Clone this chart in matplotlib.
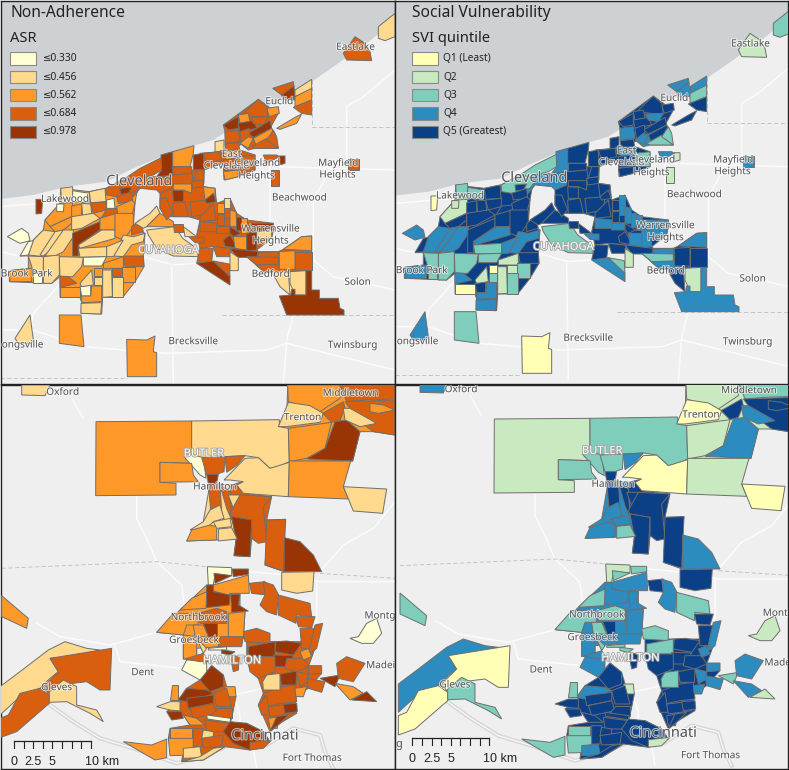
import matplotlib
matplotlib.use("Agg")
import matplotlib.pyplot as plt
import matplotlib.patheffects as pe
from matplotlib.patches import Polygon, Rectangle

plt.rcParams['font.family'] = ['Noto Sans', 'DejaVu Sans']

ASR_COLORS = ['#ffffd4', '#fed98e', '#fe9929', '#d95f0e', '#993404']
SVI_COLORS = ['#ffffb5', '#c9e9c1', '#7fcdbb', '#2c8bbf', '#0b3f86']
ASR_LABELS = ['≤0.330', '≤0.456', '≤0.562', '≤0.684', '≤0.978']
SVI_LABELS = ['Q1 (Least)', 'Q2', 'Q3', 'Q4', 'Q5 (Greatest)']

# (ASR class, SVI class, outline) in map units; None = not shown in that panel
CLE_BASE = [
 (3,4,[(670,375),(775,298),(805,320),(835,340),(810,385),(760,412),(720,435),(680,460),(675,395)]),
 (3,3,[(720,430),(815,385),(835,445),(765,445),(745,450)]),
 (3,4,[(600,460),(720,450),(765,465),(765,510),(715,530),(672,540),(670,490),(612,510)]),
 (3,4,[(480,520),(612,510),(610,560),(645,565),(650,610),(690,595),(710,640),(740,660),(820,670),(820,690),(815,715),(770,750),(775,755),(835,755),(850,748),(905,710),(935,708),(935,810),(860,815),(795,818),(740,770),(690,745),(640,740),(600,745),(590,705),(600,660),(565,650),(520,650),(500,650),(480,625)]),
 (2,4,[(135,660),(180,610),(182,565),(268,575),(318,565),(375,535),(420,555),(410,580),(405,610),(400,680),(435,700),(430,768),(432,800),(405,845),(368,892),(308,892),(305,942),(243,940),(245,908),(240,892),(180,892),(180,830),(155,850),(100,848),(28,845),(28,812),(85,805),(85,768),(60,768),(100,720),(130,690)]),
 (3,3,[(320,570),(375,535),(470,530),(515,530),(515,565),(480,580),(470,570),(420,565),(400,590),(350,590)]),
]
CLE_TRACTS = [
 (3,1,[(1030,160),(1065,110),(1095,130),(1110,155),(1115,182),(1040,180)]),
 (1,2,[(1135,80),(1185,40),(1185,110),(1155,122),(1135,115)]),
 (3,3,[(818,265),(880,245),(882,258),(845,285)]),
 (4,3,[(845,285),(882,258),(885,300),(850,298)]),
 (1,3,[(885,270),(935,238),(935,270),(885,290)]),
 (2,2,[(885,290),(935,265),(935,300),(885,320)]),
 (3,4,[(880,322),(935,300),(935,345),(905,340)]),
 (2,4,[(830,385),(880,355),(905,342),(890,370),(840,388)]),
 (2,4,[(800,325),(835,320),(838,340),(808,350)]),
 (3,4,[(725,345),(775,298),(800,320),(805,352),(770,350)]),
 (2,4,[(715,345),(745,340),(750,365),(720,370)]),
 (4,4,[(670,375),(715,350),(715,385),(685,390)]),
 (4,4,[(715,370),(760,362),(770,385),(720,395)]),
 (3,3,[(750,352),(805,350),(790,375),(760,370)]),
 (4,4,[(745,400),(810,362),(815,385),(760,412)]),
 (3,3,[(675,395),(715,390),(720,425),(675,430)]),
 (3,4,[(720,395),(748,385),(750,405),(725,435)]),
 (3,4,[(675,432),(715,428),(720,455),(680,460)]),
 (1,4,[(645,425),(672,420),(672,455),(645,455)]),
 (2,3,[(720,430),(745,410),(760,415),(745,445)]),
 (2,4,[(760,415),(815,385),(825,405),(770,440)]),
 (3,2,[(755,440),(800,415),(835,445),(765,445)]),
 (3,2,[(820,390),(830,410),(835,445),(800,420)]),
 (3,4,[(610,460),(660,455),(665,480),(620,490)]),
 (2,3,[(660,452),(720,450),(725,470),(680,480)]),
 (3,4,[(670,480),(710,475),(715,510),(672,512)]),
 (2,4,[(670,515),(715,510),(715,530),(675,540)]),
 (3,2,[(720,470),(765,465),(765,510),(720,510)]),
 (3,3,[(790,465),(830,465),(838,470),(800,490)]),
 (4,1,[(838,468),(855,468),(855,490),(838,495)]),
 (3,1,[(812,510),(838,510),(838,558),(812,558)]),
 (3,3,[(1045,478),(1078,478),(1078,510),(1045,510)]),
 (3,2,[(375,535),(420,505),(490,470),(485,510),(460,525),(400,540)]),
 (4,3,[(483,465),(518,455),(518,525),(470,530),(485,510)]),
 (2,4,[(518,455),(582,437),(580,460),(570,500),(518,500)]),
 (4,4,[(580,465),(610,460),(612,510),(580,510)]),
 (3,4,[(575,510),(612,510),(612,550),(580,555)]),
 (3,4,[(520,500),(575,500),(575,520),(520,525)]),
 (3,4,[(590,510),(612,510),(610,540),(580,545)]),
 (4,0,[(108,598),(128,598),(125,640),(108,642)]),
 (1,2,[(182,565),(218,560),(218,610),(185,610)]),
 (0,2,[(218,572),(268,580),(265,608),(218,605)]),
 (1,4,[(268,575),(315,565),(318,605),(272,608)]),
 (3,2,[(318,565),(375,535),(400,540),(420,555),(405,575),(350,590),(320,585)]),
 (4,4,[(360,565),(395,562),(385,580),(362,582)]),
 (0,None,[(320,600),(342,595),(345,625),(320,625)]),
 (3,4,[(350,590),(395,575),(398,605),(355,610)]),
 (2,1,[(135,660),(180,610),(218,608),(215,650),(150,680)]),
 (0,1,[(170,612),(192,612),(190,635),(170,635)]),
 (2,4,[(215,618),(245,612),(245,650),(215,650)]),
 (1,4,[(245,610),(272,612),(275,640),(248,650)]),
 (3,4,[(272,610),(320,605),(318,630),(280,640)]),
 (3,4,[(320,628),(355,625),(355,650),(300,660)]),
 (2,4,[(350,620),(395,600),(405,610),(395,650),(355,650)]),
 (2,4,[(150,680),(215,650),(215,670),(190,690),(165,695)]),
 (1,4,[(215,650),(280,640),(300,655),(245,685),(215,690)]),
 (1,3,[(85,765),(100,720),(130,690),(165,695),(165,720),(130,770)]),
 (0,3,[(22,710),(65,685),(85,700),(90,722),(60,730)]),
 (0,4,[(60,768),(85,725),(100,722),(85,765)]),
 (1,3,[(165,695),(190,690),(190,720),(130,768),(120,765)]),
 (1,3,[(190,690),(220,690),(220,710),(190,755),(165,768),(135,768)]),
 (4,4,[(218,700),(300,665),(300,690),(235,735),(235,768),(218,768)]),
 (2,4,[(300,655),(350,640),(345,690),(300,690)]),
 (1,3,[(235,735),(305,690),(345,690),(345,715),(240,745)]),
 (1,2,[(235,745),(320,740),(320,770),(240,772)]),
 (2,4,[(345,640),(400,640),(400,680),(370,720),(345,710)]),
 (3,4,[(395,680),(420,660),(430,695),(395,705)]),
 (1,3,[(370,705),(400,710),(435,700),(430,725),(395,735),(370,770),(340,768)]),
 (1,3,[(320,740),(370,720),(340,770),(320,770)]),
 (3,4,[(370,768),(430,768),(432,800),(375,800)]),
 (2,1,[(310,790),(370,770),(370,805),(310,805)]),
 (3,1,[(335,805),(367,805),(367,828),(335,828)]),
 (2,2,[(367,800),(405,800),(405,845),(367,845)]),
 (1,1,[(308,810),(335,810),(337,890),(308,892)]),
 (1,2,[(337,830),(368,830),(368,892),(337,892)]),
 (1,2,[(130,770),(178,765),(178,825),(155,850),(130,850)]),
 (1,2,[(85,768),(130,770),(130,815),(100,815)]),
 (2,3,[(28,812),(95,805),(95,845),(30,845)]),
 (0,2,[(98,820),(125,820),(125,848),(98,848)]),
 (1,2,[(178,770),(250,772),(245,800),(218,830),(180,830)]),
 (0,2,[(250,772),(320,770),(305,798),(250,798)]),
 (3,3,[(180,828),(205,830),(230,850),(180,862)]),
 (2,0,[(180,862),(240,862),(240,892),(180,892)]),
 (0,4,[(240,860),(272,855),(272,888),(245,888)]),
 (1,1,[(240,850),(275,810),(280,855),(245,860)]),
 (2,0,[(282,805),(305,805),(305,828),(282,828)]),
 (1,2,[(282,830),(305,830),(305,855),(282,855)]),
 (2,3,[(275,858),(305,858),(305,905),(245,908),(245,888),(272,888)]),
 (1,3,[(243,910),(305,908),(302,942),(243,940)]),
 (2,2,[(178,945),(243,945),(252,1040),(178,1030)]),
 (1,3,[(45,1015),(90,945),(100,1020),(95,1030),(55,1030)]),
 (2,0,[(380,1018),(440,1020),(465,1008),(460,1055),(470,1058),(470,1130),(382,1130)]),
 (1,4,[(405,670),(450,640),(470,618),(480,640),(440,680),(430,685)]),
 (2,4,[(440,680),(480,640),(520,665),(522,680),(445,680)]),
 (1,2,[(440,690),(525,680),(548,715),(590,745),(595,770),(520,768),(470,745),(445,705)]),
 (3,4,[(520,672),(548,672),(548,695),(522,695)]),
 (1,4,[(550,680),(590,710),(555,710)]),
 (3,3,[(568,712),(612,712),(612,730),(585,728)]),
 (3,4,[(480,595),(500,595),(518,640),(500,660),(480,625)]),
 (4,4,[(518,570),(550,572),(550,605),(520,605)]),
 (3,4,[(518,610),(555,605),(565,650),(520,650)]),
 (2,4,[(520,552),(575,552),(575,580),(550,570),(520,570)]),
 (3,4,[(575,545),(610,540),(610,560),(578,565)]),
 (3,4,[(570,605),(630,600),(625,640),(575,650)]),
 (2,4,[(610,560),(645,565),(645,590),(615,600)]),
 (4,4,[(615,600),(640,580),(648,605),(620,610)]),
 (3,4,[(600,650),(640,610),(648,660),(600,665)]),
 (2,4,[(650,610),(672,610),(672,640),(650,640)]),
 (1,3,[(672,595),(690,595),(690,625),(672,625)]),
 (3,3,[(672,625),(690,625),(690,655),(672,655)]),
 (3,4,[(650,642),(672,642),(672,675),(650,675)]),
 (2,3,[(690,630),(708,635),(710,680),(690,680)]),
 (4,3,[(708,650),(722,650),(722,690),(708,690)]),
 (2,3,[(722,655),(742,655),(742,700),(722,700)]),
 (4,3,[(742,670),(820,670),(820,690),(742,695)]),
 (3,3,[(600,665),(650,670),(650,695),(600,695)]),
 (3,3,[(650,680),(690,678),(690,700),(650,700)]),
 (4,4,[(690,680),(722,700),(700,710),(690,700)]),
 (4,4,[(670,720),(690,705),(715,745),(675,738)]),
 (2,3,[(700,710),(740,710),(740,750),(705,745)]),
 (4,3,[(740,700),(770,695),(770,750),(740,752)]),
 (1,3,[(770,695),(815,690),(815,715),(770,715)]),
 (4,4,[(690,745),(775,755),(770,772),(710,772)]),
 (3,4,[(640,740),(690,745),(700,770),(650,770)]),
 (3,4,[(600,745),(640,745),(635,785),(590,790)]),
 (4,3,[(590,790),(640,783),(690,830),(690,855)]),
 (3,2,[(640,783),(688,792),(690,830)]),
 (1,1,[(690,755),(715,772),(715,812),(690,812)]),
 (3,3,[(775,758),(835,755),(835,772),(775,775)]),
 (3,2,[(740,770),(835,772),(835,795),(770,795)]),
 (3,3,[(768,795),(860,792),(860,815),(795,818)]),
 (2,4,[(838,755),(885,752),(885,808),(838,808)]),
 (3,4,[(885,755),(935,755),(935,810),(885,810)]),
 (2,3,[(850,748),(905,710),(935,708),(935,752)]),
 (1,4,[(815,815),(865,815),(870,885),(840,860)]),
 (1,1,[(870,815),(918,812),(918,885),(885,885),(870,850)]),
 (4,3,[(838,888),(872,885),(875,868),(885,868),(885,885),(918,885),(918,812),(935,812),(935,870),(958,870),(958,895),(1015,895),(1020,925),(1032,930),(1032,945),(860,945)]),
]

CIN_BASE = [
 (2,3,[(540,675),(620,600),(720,628),(720,680),(735,680),(730,760),(655,785),(590,790),(590,820),(550,822),(550,750),(470,742)]),
 (3,4,[(740,770),(905,770),(945,790),(925,845),(965,865),(925,910),(885,935),(890,985),(840,1015),(810,1040),(775,960),(790,925),(775,880),(740,815)]),
 (3,4,[(535,945),(560,910),(600,885),(635,842),(670,870),(680,905),(708,935),(695,1000),(690,1015),(740,1015),(790,1040),(810,1070),(750,1095),(675,1085),(610,1125),(545,1130),(550,1090),(505,1060),(510,1030),(570,1020),(550,990),(500,980),(540,950)]),
 (3,4,[(690,300),(730,290),(730,325),(815,335),(800,405),(857,403),(850,458),(852,560),(795,540),(800,470),(755,460),(750,515),(702,512),(708,465),(695,395),(660,300)]),
 (1,3,[(560,468),(610,410),(630,295),(690,300),(695,400),(712,462)]),
 (2,1,[(863,0),(1185,0),(1185,150),(1120,140),(1080,140),(1058,228),(865,230),(835,125),(860,112)]),
]
CIN_TRACTS = [
 (2,1,[(288,110),(575,108),(575,235),(480,232),(480,292),(528,295),(528,330),(287,332)]),
 (1,2,[(575,108),(838,104),(838,125),(865,130),(868,230),(835,245),(810,250),(775,218),(735,212),(675,215),(605,218),(575,208)]),
 (0,2,[(552,215),(575,208),(610,218),(618,280),(600,270)]),
 (3,2,[(605,218),(675,215),(672,260),(650,268),(620,268)]),
 (3,3,[(675,215),(735,212),(712,240),(680,262)]),
 (2,2,[(480,232),(575,235),(580,270),(595,290),(480,292)]),
 (4,4,[(620,268),(655,268),(650,295),(625,295)]),
 (1,0,[(672,285),(735,220),(775,218),(810,250),(868,232),(865,335),(730,325),(710,300),(730,290),(690,285)]),
 (2,1,[(865,130),(995,112),(975,190),(920,220),(868,230)]),
 (4,3,[(920,222),(975,190),(1005,110),(1040,105),(1080,140),(1058,228)]),
 (2,1,[(868,228),(1052,228),(1030,305),(1045,342),(865,335)]),
 (1,0,[(1030,305),(1160,312),(1148,385),(1060,378)]),
 (2,1,[(863,0),(1020,0),(1020,40),(960,80),(865,50)]),
 (1,0,[(865,52),(930,62),(970,85),(960,112),(860,125),(835,125)]),
 (3,4,[(968,85),(1030,50),(1035,70),(1020,105),(995,112)]),
 (3,2,[(1020,0),(1185,0),(1185,42),(1100,45),(1040,50)]),
 (3,4,[(1035,50),(1185,45),(1185,150),(1120,140),(1080,110)]),
 (1,3,[(1030,70),(1050,70),(1130,115),(1080,125),(1035,105)]),
 (2,4,[(1110,55),(1150,60),(1185,75),(1135,85),(1110,80)]),
 (1,3,[(65,0),(150,0),(135,32),(65,30)]),
 (3,4,[(625,295),(660,295),(665,380),(632,378)]),
 (3,4,[(660,300),(690,320),(695,405),(680,370)]),
 (1,4,[(685,330),(725,330),(725,350),(700,370)]),
 (3,4,[(690,385),(720,330),(815,335),(790,365),(800,470),(775,475),(755,460),(755,405),(695,395)]),
 (4,4,[(695,395),(755,405),(750,515),(702,512),(708,465)]),
 (3,4,[(800,405),(857,403),(850,558),(795,540)]),
 (4,3,[(853,458),(900,470),(940,510),(965,560),(852,560)]),
 (1,4,[(845,562),(942,560),(938,618),(890,625),(845,615)]),
 (1,3,[(570,435),(610,410),(630,375),(660,360),(672,400),(640,410),(620,430)]),
 (2,3,[(560,468),(575,435),(630,420),(650,425),(650,465)]),
 (1,3,[(640,410),(690,400),(695,425),(650,430)]),
 (1,2,[(655,432),(695,428),(712,462),(655,468)]),
 (0,1,[(622,545),(695,548),(695,572),(645,568),(640,600),(625,600)]),
 (4,2,[(697,552),(745,552),(745,568),(700,575)]),
 (4,2,[(642,565),(695,572),(645,595)]),
 (2,3,[(640,600),(745,570),(748,625),(690,625),(688,632),(640,618)]),
 (3,4,[(748,595),(795,590),(800,630),(755,625)]),
 (4,3,[(620,600),(640,600),(640,620),(690,630),(688,660),(618,668)]),
 (4,3,[(692,628),(720,628),(715,660),(745,678),(695,682)]),
 (3,3,[(790,590),(820,600),(835,628),(830,690),(800,680),(780,660),(795,630)]),
 (3,2,[(835,630),(930,655),(935,695),(890,690),(888,715),(835,690)]),
 (3,4,[(888,695),(945,695),(935,728),(895,725)]),
 (3,4,[(900,730),(945,730),(940,790),(905,790)]),
 (3,3,[(945,720),(968,715),(950,790),(925,810)]),
 (2,2,[(620,620),(618,670),(540,675),(575,640)]),
 (2,2,[(520,685),(590,685),(595,720),(560,720),(550,750),(470,742)]),
 (3,2,[(595,685),(650,670),(680,680),(680,715),(600,715)]),
 (2,3,[(685,685),(735,680),(730,760),(685,755)]),
 (4,4,[(610,715),(650,715),(650,755),(625,755)]),
 (2,2,[(580,720),(610,720),(625,755),(585,755)]),
 (2,3,[(550,750),(590,755),(590,820),(550,822)]),
 (1,2,[(590,760),(620,790),(610,805)]),
 (0,2,[(625,790),(680,785),(680,795),(625,795)]),
 (3,3,[(660,755),(730,755),(725,785),(655,785)]),
 (3,2,[(730,740),(770,730),(810,745),(810,775),(735,770)]),
 (4,2,[(745,785),(825,770),(825,815),(745,815)]),
 (4,4,[(828,770),(860,768),(905,775),(880,810),(825,800)]),
 (4,4,[(820,810),(880,812),(860,845),(825,845)]),
 (3,4,[(740,815),(825,815),(825,860),(775,880),(750,860)]),
 (4,2,[(665,795),(705,800),(690,810),(665,805)]),
 (3,4,[(690,810),(718,815),(715,855),(700,860)]),
 (0,3,[(545,855),(560,825),(620,825),(620,870),(600,885)]),
 (3,3,[(555,822),(610,805),(625,830),(600,830)]),
 (4,4,[(600,885),(635,842),(670,870),(670,905),(630,920)]),
 (4,3,[(535,945),(560,910),(620,915),(640,925),(590,945),(560,950)]),
 (2,2,[(515,900),(535,900),(535,945),(510,945)]),
 (1,4,[(470,965),(510,950),(540,950),(540,978),(510,975)]),
 (4,4,[(500,980),(545,980),(550,1000),(515,1005)]),
 (4,4,[(560,940),(640,930),(640,955),(565,970)]),
 (2,1,[(675,905),(705,905),(708,935),(680,935)]),
 (3,4,[(640,925),(680,910),(695,965),(650,965)]),
 (3,4,[(570,970),(640,955),(650,985),(580,1000)]),
 (2,4,[(550,990),(590,1000),(615,1020),(570,1020)]),
 (3,4,[(650,970),(695,970),(695,1000),(625,1000)]),
 (0,4,[(620,990),(692,1000),(690,1012),(622,1002)]),
 (3,4,[(615,1005),(690,1015),(670,1040),(620,1040)]),
 (2,2,[(510,1030),(575,1030),(575,1060),(510,1060)]),
 (2,2,[(505,1060),(580,1060),(580,1110),(510,1112)]),
 (3,4,[(580,1030),(610,1030),(605,1085),(580,1085)]),
 (1,4,[(610,1035),(640,1040),(640,1060),(605,1060)]),
 (3,4,[(605,1060),(670,1050),(665,1085),(610,1088)]),
 (1,3,[(550,1090),(600,1085),(605,1118),(550,1120)]),
 (1,4,[(545,1130),(600,1115),(640,1090),(675,1085),(610,1125)]),
 (2,2,[(370,1070),(455,1080),(500,1062),(500,1118),(465,1125)]),
 (4,4,[(670,1040),(690,1010),(740,1015),(790,1040),(810,1070),(750,1095),(700,1075)]),
 (3,1,[(750,1072),(815,1065),(790,1090),(750,1095)]),
 (2,4,[(805,1000),(835,995),(832,1030),(810,1030)]),
 (4,4,[(830,995),(865,990),(840,1015),(810,1040)]),
 (3,4,[(790,925),(845,905),(885,900),(890,950),(845,955),(800,965)]),
 (3,4,[(775,960),(800,930),(810,990),(785,990)]),
 (3,4,[(805,965),(850,960),(890,960),(880,985),(810,995)]),
 (4,4,[(850,958),(890,955),(892,980),(855,985)]),
 (1,2,[(800,870),(840,865),(840,915),(790,915),(788,890)]),
 (4,4,[(840,868),(890,858),(888,900),(845,900)]),
 (3,4,[(860,820),(910,820),(925,845),(890,860),(855,850)]),
 (2,3,[(900,800),(925,790),(935,815),(910,825)]),
 (3,3,[(925,842),(965,842),(965,865),(925,868)]),
 (3,3,[(890,860),(925,868),(925,890),(900,905)]),
 (3,3,[(920,880),(975,890),(965,922),(925,910)]),
 (2,3,[(885,910),(920,905),(910,935),(888,935)]),
 (4,2,[(960,880),(1020,870),(1005,905)]),
 (3,3,[(1010,835),(1040,815),(1095,835),(1060,890),(1015,880)]),
 (2,3,[(1005,895),(1060,905),(1090,925),(1050,945)]),
 (4,1,[(1055,945),(1100,920),(1130,950)]),
 (0,1,[(1100,715),(1130,700),(1145,745),(1120,775),(1085,775),(1050,760),(1075,755)]),
 (2,2,[(5,632),(85,700),(80,730),(5,695)]),
 (1,3,[(0,905),(60,860),(145,795),(195,770),(260,790),(300,795),(220,815),(150,820),(175,860),(150,880),(120,910),(60,935),(0,990)]),
 (3,0,[(150,820),(335,790),(330,915),(300,915),(260,890),(180,900),(145,925),(130,905),(175,860)]),
 (3,0,[(0,1000),(25,990),(60,925),(120,910),(148,930),(148,955),(50,1040),(0,1058)]),
 (1,2,[(148,920),(190,885),(230,905),(230,960),(290,975),(310,1010),(270,985),(200,950),(148,952)]),
]

CLE_LABELS = [('Eastlake',1067,142,9),('Euclid',838,305,9),('East',695,463,9),('Cleveland',680,498,9),
 ('Cleveland',772,490,9),('Heights',770,528,9),('Mayfield',1015,490,9),('Heights',1013,525,9),
 ('Cleveland',418,545,13),('Lakewood',195,598,9),('Beachwood',898,594,9),('Warrensville',812,687,9),
 ('Heights',812,723,9),('Brook Park',80,822,9),('Bedford',812,823,9),('Solon',1073,847,9),
 ('ongsville',68,1035,9),('Brecksville',580,1025,9),('Twinsburg',1058,1036,9)]
CIN_LABELS = [('Oxford',188,22,9),('Middletown',1052,25,9),('Trenton',908,98,9),('Hamilton',645,306,9),
 ('Northbrook',595,698,9),('Montg',1140,693,9),('Groesbeck',582,766,9),('Dent',428,863,9),
 ('Madei',1142,842,9),('Gleves',170,908,9),('Cincinnati',795,1053,13),('Fort Thomas',937,1120,9)]
CLE_COUNTY = [('CUYAHOGA',505,752)]
CIN_COUNTY = [('BUTLER',612,207),('HAMILTON',697,828)]

LAKE = [(0,597),(100,585),(200,560),(320,545),(400,505),(520,455),(640,420),(780,330),(900,270),
        (1000,200),(1100,130),(1185,62),(1200,62),(1200,0),(0,0)]
CLE_ROADS = [[(0,620),(120,610),(350,590)],[(0,755),(60,768),(180,770),(320,770),(430,770),(520,795),(590,790)],
 [(940,700),(940,600),(990,510),(1040,480),(1040,320),(1090,290),(1185,210)],[(520,1150),(515,800)],
 [(810,500),(810,700)],[(880,945),(860,1020),(850,1150)],
 [(0,990),(100,990),(250,1040),(500,1060),(800,1050),(860,1030),(1185,1110)],[(835,500),(1185,510)],
 [(940,700),(940,780),(1000,830),(1185,870)],[(200,830),(100,940),(90,1000)]]
CLE_DASH = [[(0,1135),(380,1135)],[(665,945),(1185,945)],[(935,380),(1185,380)],[(935,240),(935,380)]]
CIN_ROADS = [[(110,715),(180,755),(330,780),(470,742),(550,690),(620,625)],
 [(410,335),(410,400),(440,460),(470,530),(545,600),(555,680)],
 [(1185,590),(1080,590),(960,590),(860,570),(750,560)],[(960,560),(1030,480),(1120,430),(1185,350)],
 [(950,590),(950,700),(930,800)],[(215,40),(250,100)],[(700,920),(720,990),(720,1040)],
 [(700,930),(790,910),(950,900),(1050,870)],[(345,780),(360,830),(550,850)],[(760,1090),(770,1150)]]
CIN_DASH = [[(5,550),(470,530),(620,545)],[(960,565),(1185,580)]]
RIVER = [(150,960),(220,1010),(300,1060),(400,1090),(530,1135),(620,1110),(700,1075),(800,1080),
         (880,1030),(960,1050),(975,1100),(1000,1150)]
SCALE_TICKS = [42,71,100,129,157,186,215,244,272]
SCALE_TEXT = [('0',42),('2.5',100),('5',157),('10 km',305)]

W, H = 789, 770
fig = plt.figure(figsize=(W/100, H/100), dpi=100, facecolor='white')

def panel(px0, py0, px1, py1, x0, y0):
    """Axes over a pixel box; x0,y0 = map units at its top-left corner (3 units per pixel)."""
    ax = fig.add_axes([px0/W, 1-py1/H, (px1-px0)/W, (py1-py0)/H], facecolor='#efefef')
    ax.set_xlim(x0, x0+(px1-px0)*3); ax.set_ylim(y0+(py1-py0)*3, y0)
    ax.set_xticks([]); ax.set_yticks([])
    for s in ax.spines.values():
        s.set_color('#222222'); s.set_linewidth(1.0)
    return ax

def draw(ax, tracts, idx, colors, roads, dashes, labels, counties):
    for r in roads:
        ax.plot(*zip(*r), color='#fbfbfb', lw=1.1, zorder=2, solid_capstyle='round')
    for d in dashes:
        ax.plot(*zip(*d), color='#bdbdbd', lw=0.6, ls=(0,(5,3)), zorder=2)
    for t in tracts:
        c = t[idx]
        if c is None:
            continue
        ax.add_patch(Polygon(t[2], closed=True, fc=colors[c], ec='#6e6e6e', lw=0.7, zorder=3))
    for s, x, y, fs in labels:
        ax.text(x, y, s, fontsize=fs*0.8, color='#555555', ha='center', va='center', zorder=5, clip_on=True,
                path_effects=[pe.withStroke(linewidth=1.3, foreground='#ffffff', alpha=0.7)])
    for s, x, y in counties:
        ax.text(x, y, s, fontsize=8, color='#ffffff', fontweight='bold', ha='center', va='center', zorder=5,
                clip_on=True, path_effects=[pe.withStroke(linewidth=1.3, foreground='#a5a5a5')])

def scale(ax):
    for x in SCALE_TICKS:
        ax.plot([x, x], [1068, 1088], color='#222222', lw=0.8, zorder=6)
    ax.plot([SCALE_TICKS[0], SCALE_TICKS[-1]], [1068, 1068], color='#222222', lw=0.9, zorder=6)
    for s, x in SCALE_TEXT:
        ax.text(x, 1130, s, fontsize=9, family='Liberation Sans', color='#222222', ha='center', va='center', zorder=6)

tl = panel(1, 1, 395, 384, 3, 3)
tr = panel(395, 1, 788, 384, 0, 13)
bl = panel(1, 385, 395, 769, 3, 0)
br = panel(395, 385, 788, 769, -10, 8)

for ax in (tl, tr):
    ax.add_patch(Polygon(LAKE, closed=True, fc='#cdd1d3', ec='none', zorder=1))
for ax in (bl, br):
    ax.plot(*zip(*RIVER), color='#d6d6d6', lw=3.0, zorder=1.5)
    ax.plot(*zip(*RIVER), color='#f7f7f7', lw=1.0, zorder=1.6)

draw(tl, CLE_BASE + CLE_TRACTS, 0, ASR_COLORS, CLE_ROADS, CLE_DASH, CLE_LABELS, CLE_COUNTY)
draw(tr, CLE_BASE + CLE_TRACTS, 1, SVI_COLORS, CLE_ROADS, CLE_DASH, CLE_LABELS, CLE_COUNTY)
draw(bl, CIN_BASE + CIN_TRACTS, 0, ASR_COLORS, CIN_ROADS, CIN_DASH, CIN_LABELS, CIN_COUNTY)
draw(br, CIN_BASE + CIN_TRACTS, 1, SVI_COLORS, CIN_ROADS, CIN_DASH, CIN_LABELS, CIN_COUNTY)
scale(bl)
scale(br)
br.text(2, 1085, 'g', fontsize=8, color='#555555', ha='center', va='center', zorder=5)

over = fig.add_axes([0, 0, 1, 1], facecolor='none')
over.set_xlim(0, W); over.set_ylim(H, 0); over.axis('off')
SWATCH_Y = [58.5, 77, 95, 113.5, 132]
for x0, title, sub, labels, colors, tx in [
    (10.5, 'Non-Adherence', 'ASR', ASR_LABELS, ASR_COLORS, 42.5),
    (412.5, 'Social Vulnerability', 'SVI quintile', SVI_LABELS, SVI_COLORS, 443.5)]:
    over.text(x0, 13, title, fontsize=11.2, color='#222222', va='center')
    over.text(x0, 38, sub, fontsize=10.6, color='#222222', va='center')
    for y, s, c in zip(SWATCH_Y, labels, colors):
        over.add_patch(Rectangle((x0, y-6.3), 26, 12.6, fc=c, ec='#8a8a8a', lw=0.8))
        over.text(tx, y, s, fontsize=7.3, color='#222222', va='center')

fig.savefig('out.png', dpi=100)
